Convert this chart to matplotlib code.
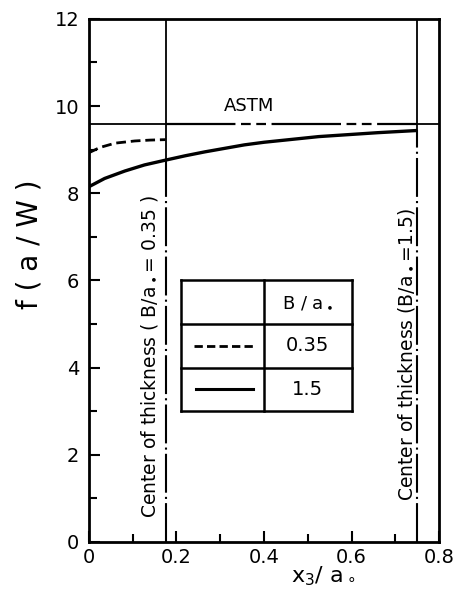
import numpy as np
import matplotlib
matplotlib.use("Agg")
import matplotlib.pyplot as plt

plt.rcParams['font.family'] = ['DejaVu Sans']
plt.rcParams['lines.scale_dashes'] = False

x_035 = [0.0, 0.025, 0.06, 0.105, 0.14, 0.175]
f_035 = [8.93, 9.05, 9.15, 9.20, 9.22, 9.23]

x_15 = [0.0, 0.036, 0.082, 0.127, 0.175, 0.22, 0.265, 0.31, 0.355, 0.40,
        0.525, 0.66, 0.75]
f_15 = [8.15, 8.34, 8.51, 8.65, 8.76, 8.86, 8.95, 9.03, 9.11, 9.17,
        9.30, 9.39, 9.44]

f_astm = 9.6
centers = [0.175, 0.75]          # B/(2 a0) for B/a0 = 0.35, 1.5
center_labels = ["Center of thickness ( B/a$_\\bullet$= 0.35 )",
                 "Center of thickness (B/a$_\\bullet$=1.5)"]
legend_vals = ["0.35", "1.5"]

fig = plt.figure(figsize=(4.56, 5.91), dpi=100)
ax = fig.add_axes([0.195, 0.083, 0.768, 0.885])

# curves
ax.plot(x_035, f_035, color='black', lw=2.0, dashes=(7, 3.5))
ax.plot(x_15, f_15, color='black', lw=2.4, solid_capstyle='butt')

# ASTM line: solid up to first center, phantom style between, solid after
ax.plot([0, centers[0]], [f_astm, f_astm], color='black', lw=1.3)
ax.plot([centers[0], centers[1]], [f_astm, f_astm], color='black', lw=1.6,
        dashes=(50, 4, 7, 4, 7, 4))
ax.plot([centers[1], 0.8], [f_astm, f_astm], color='black', lw=1.3)
ax.text(0.366, 10.0, "ASTM", fontsize=13, ha='center', va='center')

# center-of-thickness lines
tops = [f_15[4], f_15[-1]]
for xc, yt, lab, tx, ty0 in zip(centers, tops, center_labels,
                                [0.138, 0.725], [0.55, 0.95]):
    ax.plot([xc, xc], [yt, 12], color='black', lw=1.3)
    ax.plot([xc, xc], [0, yt], color='black', lw=1.5, dashes=(28, 3, 1.5, 3))
    ax.text(tx, ty0, lab, rotation=90, fontsize=13.5, ha='center', va='bottom')

# legend table drawn in data coords
tx0, tx1, tx2 = 0.21, 0.40, 0.60
ty = [3.0, 4.0, 5.0, 6.0]
tk = dict(color='black', lw=1.8, solid_capstyle='projecting')
for yy in ty:
    ax.plot([tx0, tx2], [yy, yy], **tk)
for xx in [tx0, tx1, tx2]:
    ax.plot([xx, xx], [ty[0], ty[-1]], **tk)
ax.text(0.5, 5.5, "B / a$_\\bullet$", fontsize=13, ha='center', va='center')
ax.plot([0.24, 0.375], [4.5, 4.5], color='black', lw=2.0, dashes=(6, 3))
ax.plot([0.245, 0.375], [3.5, 3.5], color='black', lw=2.2)
ax.text(0.5, 4.5, legend_vals[0], fontsize=14, ha='center', va='center')
ax.text(0.5, 3.5, legend_vals[1], fontsize=14, ha='center', va='center')

ax.set_xlim(0, 0.8)
ax.set_ylim(0, 12)
ax.set_xticks([0, 0.2, 0.4, 0.6, 0.8])
ax.set_xticklabels(["0", "0.2", "0.4", "0.6", "0.8"])
ax.set_xticks(np.arange(0.1, 0.8, 0.2), minor=True)
ax.set_yticks([0, 2, 4, 6, 8, 10, 12])
ax.set_yticks(np.arange(1, 12, 2), minor=True)
ax.tick_params(which='both', direction='in', width=1.5, labelsize=14)
ax.tick_params(which='major', length=8, pad=7)
ax.tick_params(which='minor', length=6)
ax.tick_params(axis='x', which='major', pad=4)
ax.tick_params(axis='x', which='both', top=False)
for s in ax.spines.values():
    s.set_linewidth(2.0)

ax.text(-0.17, 0.57, "f ( a / W )", transform=ax.transAxes, rotation=90,
        fontsize=20, ha='center', va='center')
ax.text(0.67, -0.066, "x$_3$/ a$_\\circ$", transform=ax.transAxes,
        fontsize=16, ha='center', va='center')

fig.savefig("out.png", dpi=100)
